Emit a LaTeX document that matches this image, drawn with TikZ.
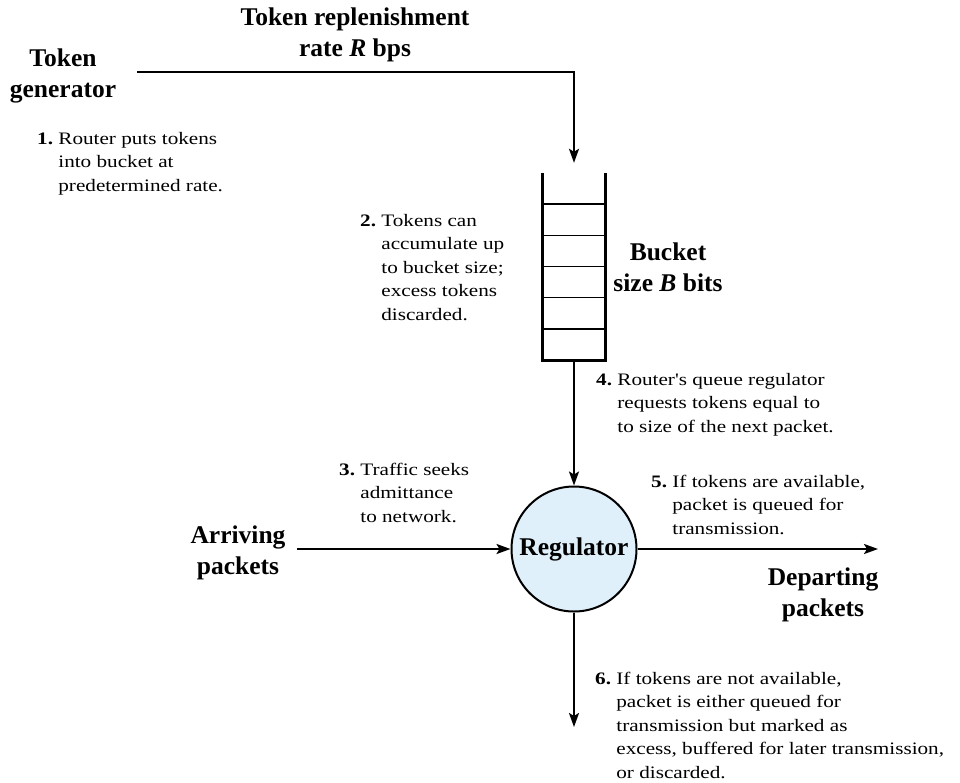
\documentclass[tikz,border=0pt]{standalone}
\usepackage{fontspec}
\setmainfont{Liberation Serif}
\newfontfamily\notefont[FakeStretch=1.21]{Liberation Serif}
\usetikzlibrary{arrows.meta,positioning,calc}
\definecolor{regblue}{RGB}{224,240,250}

\begin{document}
\begin{tikzpicture}[x=1pt,y=-1pt,
  heading/.style={font=\fontsize{25.5}{31}\selectfont\bfseries,inner sep=0pt,anchor=base},
  note/.style={font=\notefont\fontsize{17.5}{23.5}\selectfont,inner sep=0pt,anchor=base west},
  flow/.style={line width=2pt,-{Stealth[length=14pt,width=10pt,inset=3pt]}}]
\useasboundingbox (0,0) rectangle (960,782);

\node[minimum width=62pt,minimum height=187pt,inner sep=0pt] (bucket) at (574,266.5) {};
\draw[line width=3pt] (bucket.north west)--(bucket.south west)--(bucket.south east)--(bucket.north east);
\foreach \k in {1,...,5}
  \draw[line width=1.5pt] ($(bucket.north west)!\k/6!(bucket.south west)$)--($(bucket.north east)!\k/6!(bucket.south east)$);

\node[circle,draw,line width=2pt,fill=regblue,minimum size=125pt,inner sep=0pt,
  font=\fontsize{25.5}{31}\selectfont\bfseries] (reg) at (574,549) {Regulator};

\coordinate (src) at (137,72);
\coordinate (in) at (297,549);
\coordinate (out) at (878,549);
\coordinate (drop) at (574,727);

\draw[flow,shorten >=10pt] (src) -| (bucket.north);
\draw[flow] (bucket.south)--(reg.north);
\draw[flow] (in)--(reg.west);
\draw[flow] (reg.east)--(out);
\draw[flow] (reg.south)--(drop);

\node[heading] (gen) at (63,66.7) {\begin{tabular}[t]{@{}c@{}}Token\\generator\end{tabular}};
\node[heading] (rate) at (355,25) {\begin{tabular}[t]{@{}c@{}}Token replenishment\\rate \textit{R} bps\end{tabular}};
\node[heading] (size) at (668,260) {\begin{tabular}[t]{@{}c@{}}Bucket\\size \textit{B} bits\end{tabular}};
\node[heading] (arriving) at (238,543) {\begin{tabular}[t]{@{}c@{}}Arriving\\packets\end{tabular}};
\node[heading] (departing) at (823,585) {\begin{tabular}[t]{@{}c@{}}Departing\\packets\end{tabular}};

\node[note] (n1) at (37,144) {\begin{tabular}[t]{@{}l@{\ }l@{}}\textbf{1.}&Router puts tokens\\&into bucket at\\&predetermined rate.\end{tabular}};
\node[note] (n2) at (360,226) {\begin{tabular}[t]{@{}l@{\ }l@{}}\textbf{2.}&Tokens can\\&accumulate up\\&to bucket size;\\&excess tokens\\&discarded.\end{tabular}};
\node[note] (n3) at (339,475) {\begin{tabular}[t]{@{}l@{\ }l@{}}\textbf{3.}&Traffic seeks\\&admittance\\&to network.\end{tabular}};
\node[note] (n4) at (596,385) {\begin{tabular}[t]{@{}l@{\ }l@{}}\textbf{4.}&Router's queue regulator\\&requests tokens equal to\\&to size of the next packet.\end{tabular}};
\node[note] (n5) at (651,487) {\begin{tabular}[t]{@{}l@{\ }l@{}}\textbf{5.}&If tokens are available,\\&packet is queued for\\&transmission.\end{tabular}};
\node[note] (n6) at (595,684) {\begin{tabular}[t]{@{}l@{\ }l@{}}\textbf{6.}&If tokens are not available,\\&packet is either queued for\\&transmission but marked as\\&excess, buffered for later transmission,\\&or discarded.\end{tabular}};
\end{tikzpicture}
\end{document}
